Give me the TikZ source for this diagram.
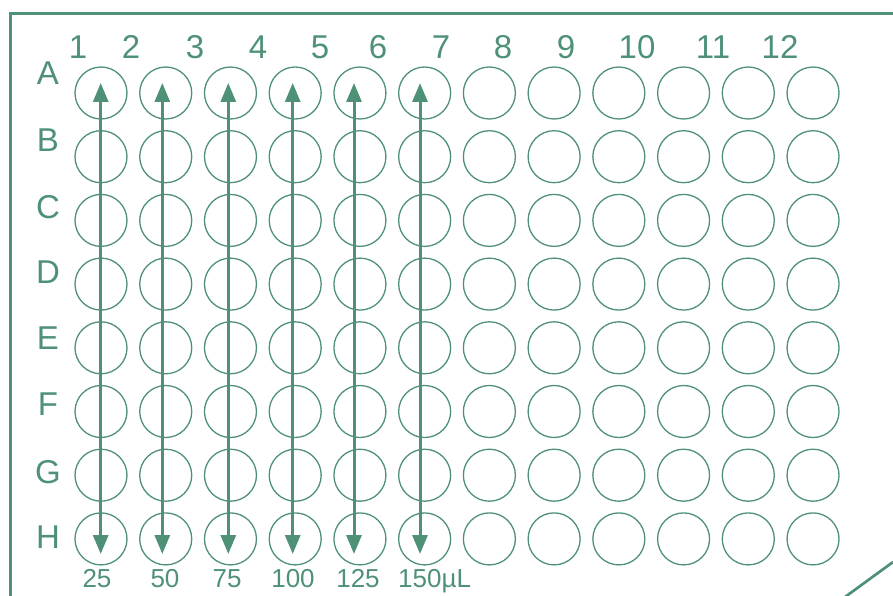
\documentclass[tikz,border=0pt]{standalone}
\usepackage{fontspec}
\setmainfont{Liberation Sans}
\usetikzlibrary{arrows.meta}
\definecolor{plategreen}{RGB}{78,145,118}
\tikzset{
  well/.style={circle, draw=plategreen, line width=1.3pt, minimum size=52pt, inner sep=0pt},
  biglabel/.style={text=plategreen, font=\fontsize{33}{33}\selectfont, inner sep=0pt, anchor=base},
  vollabel/.style={text=plategreen, font=\fontsize{26}{26}\selectfont, inner sep=0pt, anchor=base},
  platebord/.style={draw=plategreen, line width=2.7pt},
  fillarrow/.style={draw=plategreen, line width=3pt, {Triangle[length=19pt,width=15pt,fill=plategreen]}-{Triangle[length=19pt,width=15pt,fill=plategreen]}, shorten <=0pt, shorten >=0pt}
}
\begin{document}
\begin{tikzpicture}[x=1pt,y=-1pt]
\useasboundingbox (0,0) rectangle (893,596);
% plate border
\draw[platebord] (893,13.5) -- (10.7,13.5) -- (10.7,597);
\draw[platebord] (845,597) -- (893,562);
% wells
\foreach \r [count=\j from 0] in {A,B,C,D,E,F,G,H}{
  \foreach \c in {1,...,12}{
    \node[well] (w\r\c) at ({101+64.73*(\c-1)},{93+63.7*\j}) {};
  }
}
% column labels
\foreach \x/\t in {78/1,131/2,195/3,258/4,320/5,378/6,441/7,503/8,566/9,637/10,713/11,780/12}{
  \node[biglabel] (col\t) at (\x,59) {\t};
}
% row labels
\foreach \y/\t in {85/A,152/B,218/C,283/D,349/E,415/F,483/G,548/H}{
  \node[biglabel] (row\t) at (48,\y) {\t};
}
% arrows
\foreach \x [count=\k] in {100.7,162.3,228.3,292.7,354,420}{
  \coordinate (top\k) at (\x,83);
  \coordinate (bot\k) at (\x,554);
  \draw[fillarrow] (top\k) -- (bot\k);
}
% volume labels
\node[vollabel] (v1) at (97,587) {25};
\node[vollabel] (v2) at (165,587) {50};
\node[vollabel] (v3) at (227,587) {75};
\node[vollabel] (v4) at (293,587) {100};
\node[vollabel] (v5) at (358,587) {125};
\node[vollabel, anchor=base west] (v6) at (398,587) {150µL};
\end{tikzpicture}
\end{document}
